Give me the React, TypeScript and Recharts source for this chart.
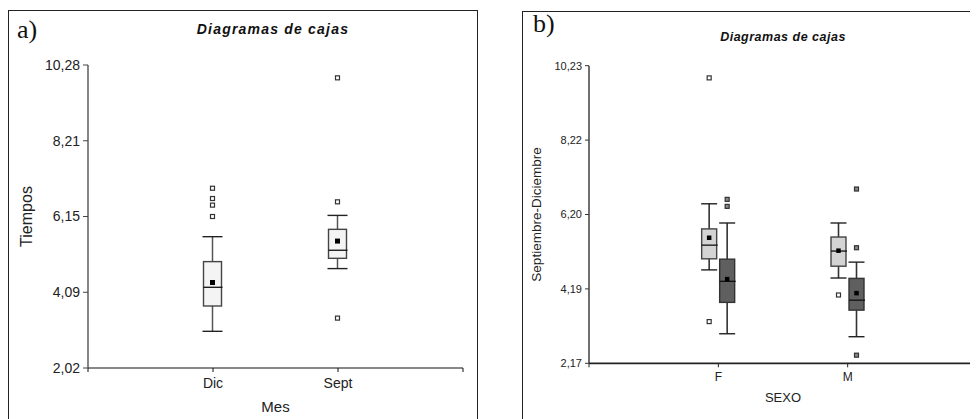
import React from "react";
import { ComposedChart, Bar, XAxis, YAxis, Label } from "recharts";

// a) Tiempos por mes
const mesCategories = ["Dic", "Sept"];
const mesLow = [3.02, 4.73];
const mesQ1 = [3.71, 5.01];
const mesMedian = [4.22, 5.23];
const mesQ3 = [4.92, 5.8];
const mesHigh = [5.6, 6.18];
const mesMean = [4.35, 5.48];
const mesOutliers = [
  [6.15, 6.46, 6.64, 6.92],
  [3.38, 6.55, 9.93],
];
const mesTicks = [2.02, 4.085, 6.15, 8.215, 10.28];
const mesTickLabels = ["2,02", "4,09", "6,15", "8,21", "10,28"];

// b) Septiembre-Diciembre por sexo
const sexoCategories = ["F", "M"];
const septLow = [4.7, 4.48];
const septQ1 = [5.0, 4.8];
const septMedian = [5.37, 5.21];
const septQ3 = [5.81, 5.59];
const septHigh = [6.49, 5.97];
const septMean = [5.57, 5.22];
const septOutliers = [[3.3, 9.9], [4.02]];
const dicLow = [2.97, 2.89];
const dicQ1 = [3.82, 3.61];
const dicMedian = [4.39, 3.88];
const dicQ3 = [4.99, 4.47];
const dicHigh = [5.97, 4.91];
const dicMean = [4.45, 4.07];
const dicOutliers = [
  [6.42, 6.61],
  [2.39, 5.3, 6.89],
];
const sexoTicks = [2.17, 4.185, 6.2, 8.215, 10.23];
const sexoTickLabels = ["2,17", "4,19", "6,20", "8,22", "10,23"];

const FONT = '"Liberation Sans", Arial, Helvetica, sans-serif';
const SERIF = '"Liberation Serif", "Times New Roman", serif';

type Stat = {
  low: number;
  q1: number;
  median: number;
  q3: number;
  high: number;
  mean: number;
  outliers: number[];
};

const pick = (
  lo: number[], q1: number[], med: number[], q3: number[], hi: number[],
  mean: number[], out: number[][], i: number
): Stat => ({
  low: lo[i], q1: q1[i], median: med[i], q3: q3[i], high: hi[i], mean: mean[i], outliers: out[i],
});

const mesData = mesCategories.map((name, i) => ({
  x: i + 1,
  name,
  box: pick(mesLow, mesQ1, mesMedian, mesQ3, mesHigh, mesMean, mesOutliers, i),
}));

const sexoData = sexoCategories.map((name, i) => ({
  x: i + 1,
  name,
  sept: pick(septLow, septQ1, septMedian, septQ3, septHigh, septMean, septOutliers, i),
  dic: pick(dicLow, dicQ1, dicMedian, dicQ3, dicHigh, dicMean, dicOutliers, i),
}));

type Look = {
  fill: string;
  stroke: string;
  whisker: string;
  whiskerWidth: number;
  capExtra: number;
  outlierFill: string;
  mark: number;
  meanMark: number;
};

// whisker range comes from the bar; the rest is placed on the same linear scale
function makeBoxShape(key: string, look: Look) {
  return (props: any) => {
    const { x, y, width, height, payload } = props;
    const s: Stat = payload && payload[key];
    if (!s) return <g />;
    const top = Math.min(y, y + height);
    const h = Math.abs(height);
    const k = h / (s.high - s.low);
    const py = (v: number) => top + (s.high - v) * k;
    const cx = x + width / 2;
    const cap = width / 2 + look.capExtra;
    const m = look.mark;
    const mm = look.meanMark;
    return (
      <g>
        <line x1={cx} x2={cx} y1={py(s.high)} y2={py(s.q3)} stroke={look.whisker} strokeWidth={look.whiskerWidth} />
        <line x1={cx} x2={cx} y1={py(s.q1)} y2={py(s.low)} stroke={look.whisker} strokeWidth={look.whiskerWidth} />
        <line x1={cx - cap} x2={cx + cap} y1={py(s.high)} y2={py(s.high)} stroke="#222" strokeWidth={1.4} />
        <line x1={cx - cap} x2={cx + cap} y1={py(s.low)} y2={py(s.low)} stroke="#222" strokeWidth={1.4} />
        <rect
          x={x}
          y={py(s.q3)}
          width={width}
          height={py(s.q1) - py(s.q3)}
          fill={look.fill}
          stroke={look.stroke}
          strokeWidth={1.4}
        />
        <line x1={x} x2={x + width + 1} y1={py(s.median)} y2={py(s.median)} stroke="#111" strokeWidth={1.3} />
        <rect x={cx - mm / 2} y={py(s.mean) - mm / 2} width={mm} height={mm} fill="#000" />
        {s.outliers.map((v, i) => (
          <rect
            key={i}
            x={cx - m / 2}
            y={py(v) - m / 2}
            width={m}
            height={m}
            fill={look.outlierFill}
            stroke="#333"
            strokeWidth={1.2}
          />
        ))}
      </g>
    );
  };
}

const lookA: Look = {
  fill: "#f4f4f4", stroke: "#444", whisker: "#555", whiskerWidth: 1.5,
  capExtra: 1, outlierFill: "#fff", mark: 4, meanMark: 5,
};
const lookSept: Look = {
  fill: "#d4d4d4", stroke: "#444", whisker: "#333", whiskerWidth: 1.6,
  capExtra: 0.5, outlierFill: "#fff", mark: 4, meanMark: 4.5,
};
const lookDic: Look = {
  fill: "#5f5f5f", stroke: "#333", whisker: "#333", whiskerWidth: 1.6,
  capExtra: 0.5, outlierFill: "#888", mark: 4, meanMark: 4.5,
};

const xTitle = (text: string, size: number, dy: number) => (p: any) => {
  const vb = p.viewBox;
  return (
    <text x={vb.x + vb.width / 2} y={vb.y + dy} textAnchor="middle" fontSize={size} fontFamily={FONT} fill="#222">
      {text}
    </text>
  );
};

const yTitle = (text: string, size: number, dx: number) => (p: any) => {
  const vb = p.viewBox;
  return (
    <text
      transform={`translate(${vb.x + dx},${vb.y + vb.height / 2}) rotate(-90)`}
      textAnchor="middle"
      fontSize={size}
      fontFamily={FONT}
      fill="#222"
    >
      {text}
    </text>
  );
};

const panelStyle: React.CSSProperties = {
  position: "absolute",
  boxSizing: "border-box",
  border: "1px solid #222",
  background: "#fff",
  height: 440,
};

// overlay for the panel letter and title, shifted up so tall glyphs are not clipped
const OVER = 12;

function MesChart() {
  return (
    <div style={{ ...panelStyle, left: 0, top: 2, width: 470 }}>
      <svg width={467} height={70} style={{ position: "absolute", left: 0, top: -OVER, overflow: "visible" }}>
        <text x={8} y={27 + OVER} fontSize={26} fontFamily={SERIF} fill="#111">a)</text>
        <text x={264} y={22.5 + OVER} textAnchor="middle" fontSize={14} fontWeight="bold" fontStyle="italic" letterSpacing={1.2} fontFamily={FONT} fill="#111">
          Diagramas de cajas
        </text>
      </svg>
      <div style={{ position: "absolute", left: 0, top: 0 }}>
        <ComposedChart width={467} height={410} data={mesData} margin={{ top: 54, right: 13, bottom: 13, left: 9 }}>
          <XAxis
            type="number"
            dataKey="x"
            domain={[0, 3]}
            ticks={[0, 1, 2, 3]}
            interval={0}
            tickFormatter={(v: number) => mesCategories[v - 1] ?? ""}
            height={40}
            tickSize={4}
            tickMargin={6}
            axisLine={{ stroke: "#111", strokeWidth: 1.2 }}
            tickLine={{ stroke: "#111" }}
            tick={{ fill: "#222", fontSize: 14, fontFamily: FONT }}
          >
            <Label content={xTitle("Mes", 15, 44)} />
          </XAxis>
          <YAxis
            type="number"
            domain={[2.02, 10.28]}
            ticks={mesTicks}
            interval={0}
            tickFormatter={(v: number) => mesTickLabels[mesTicks.indexOf(v)] ?? ""}
            width={70}
            tickSize={5}
            tickMargin={3}
            axisLine={{ stroke: "#444", strokeWidth: 1.3 }}
            tickLine={{ stroke: "#444" }}
            tick={{ fill: "#222", fontSize: 14, fontFamily: FONT }}
          >
            <Label content={yTitle("Tiempos", 16, 13.5)} />
          </YAxis>
          <Bar
            dataKey={(d: any) => [d.box.low, d.box.high]}
            barSize={18}
            isAnimationActive={false}
            shape={makeBoxShape("box", lookA)}
          />
        </ComposedChart>
      </div>
    </div>
  );
}

function SexoChart() {
  return (
    <div style={{ ...panelStyle, left: 514, top: 3, width: 480 }}>
      <svg width={467} height={70} style={{ position: "absolute", left: 0, top: -OVER, overflow: "visible" }}>
        <text x={10} y={20 + OVER} fontSize={26} fontFamily={SERIF} fill="#111">b)</text>
        <text x={260} y={28.7 + OVER} textAnchor="middle" fontSize={12.5} fontWeight="bold" fontStyle="italic" letterSpacing={0.5} fontFamily={FONT} fill="#111">
          Diagramas de cajas
        </text>
      </svg>
      <div style={{ position: "absolute", left: 0, top: 0 }}>
        <ComposedChart
          width={467}
          height={410}
          data={sexoData}
          barGap={3}
          margin={{ top: 53.7, right: 13, bottom: 18.7, left: 6 }}
        >
          <XAxis
            type="number"
            dataKey="x"
            domain={[0, 3]}
            ticks={[0, 1, 2, 3]}
            interval={0}
            tickFormatter={(v: number) => sexoCategories[v - 1] ?? ""}
            height={40}
            tickSize={4}
            tickMargin={5}
            axisLine={{ stroke: "#222", strokeWidth: 1.7 }}
            tickLine={{ stroke: "#222" }}
            tick={{ fill: "#222", fontSize: 12, fontFamily: FONT }}
          >
            <Label content={xTitle("SEXO", 13, 38.4)} />
          </XAxis>
          <YAxis
            type="number"
            domain={[2.17, 10.23]}
            ticks={sexoTicks}
            interval={0}
            tickFormatter={(v: number) => sexoTickLabels[sexoTicks.indexOf(v)] ?? ""}
            width={60}
            tickSize={4}
            tickMargin={3}
            axisLine={{ stroke: "#333", strokeWidth: 1.4 }}
            tickLine={{ stroke: "#333" }}
            tick={{ fill: "#222", fontSize: 11, fontFamily: FONT }}
          >
            <Label content={yTitle("Septiembre-Diciembre", 13.5, 12.4)} />
          </YAxis>
          <Bar
            dataKey={(d: any) => [d.sept.low, d.sept.high]}
            barSize={15}
            isAnimationActive={false}
            shape={makeBoxShape("sept", lookSept)}
          />
          <Bar
            dataKey={(d: any) => [d.dic.low, d.dic.high]}
            barSize={15}
            isAnimationActive={false}
            shape={makeBoxShape("dic", lookDic)}
          />
        </ComposedChart>
      </div>
    </div>
  );
}

export default function App() {
  return (
    <div style={{ position: "relative", width: 970, height: 411, overflow: "hidden", background: "#fff" }}>
      <MesChart />
      <SexoChart />
    </div>
  );
}
